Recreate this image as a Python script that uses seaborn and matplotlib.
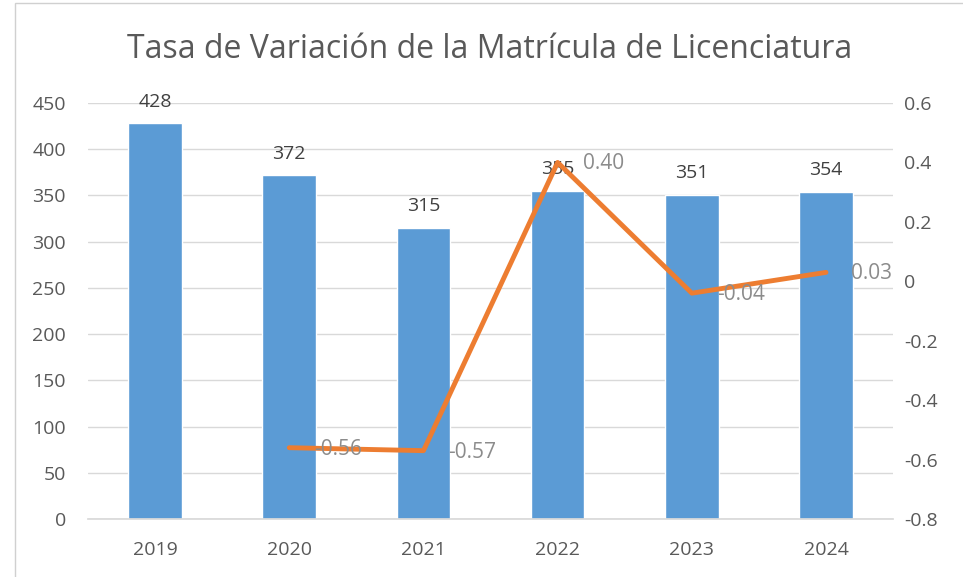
import matplotlib
matplotlib.use('Agg')
import matplotlib.pyplot as plt
import seaborn as sns
import pandas as pd
import numpy as np
from matplotlib.ticker import FuncFormatter, MultipleLocator
from matplotlib.patches import Rectangle

years = ['2019', '2020', '2021', '2022', '2023', '2024']
matricula = [428, 372, 315, 355, 351, 354]
tasa = [np.nan, -0.56, -0.57, 0.40, -0.04, 0.03]

bar_color = '#5B9BD5'
line_color = '#ED7D31'
text_gray = '#595959'

sns.set_theme(style='white')
plt.rcParams['font.family'] = ['Open Sans', 'DejaVu Sans']

df = pd.DataFrame({'year': years, 'matricula': matricula, 'tasa': tasa})

fig = plt.figure(figsize=(9.63, 5.77), dpi=100)
ax = fig.add_axes([0.0914, 0.1005, 0.836, 0.721])

sns.barplot(data=df, x='year', y='matricula', order=years, color=bar_color,
            saturation=1, width=0.4, ax=ax)
ax.set_ylim(0, 450)
ax.yaxis.set_major_locator(MultipleLocator(50))
ax.grid(axis='y', color='#d9d9d9', linewidth=1)
ax.set_axisbelow(True)
for s in ['left', 'right', 'top']:
    ax.spines[s].set_visible(False)
ax.spines['bottom'].set_color('#d9d9d9')
ax.set_xlabel('')
ax.set_ylabel('')
ax.tick_params(axis='y', labelsize=14, labelcolor=text_gray, length=0, pad=16)
ax.tick_params(axis='x', labelsize=14, labelcolor=text_gray, length=0, pad=16)

for i, v in enumerate(matricula):
    ax.annotate(str(v), (i, v), xytext=(0, 9), textcoords='offset points',
                ha='center', va='bottom', fontsize=14, color='#404040')

ax2 = ax.twinx()
sns.pointplot(data=df, x='year', y='tasa', order=years, color=line_color,
              markers='', linewidth=3.5, errorbar=None, ax=ax2)
ax2.set_ylim(-0.8, 0.6)
ax2.yaxis.set_major_locator(MultipleLocator(0.2))
ax2.yaxis.set_major_formatter(FuncFormatter(lambda v, p: '0' if abs(v) < 1e-9 else f'{v:.1f}'))
for s in ['left', 'right', 'top', 'bottom']:
    ax2.spines[s].set_visible(False)
ax2.grid(False)
ax2.set_ylabel('')
ax2.set_xlabel('')
ax2.tick_params(axis='y', labelsize=14, labelcolor=text_gray, length=0, pad=8)
ax2.set_xlim(-0.5, len(years) - 0.5)

for i, v in enumerate(tasa):
    if np.isnan(v):
        continue
    ax2.annotate(f'{v:.2f}', (i, v), xytext=(18, -1), textcoords='offset points',
                 ha='left', va='center', fontsize=15, color='#8c8c8c')

fig.suptitle('Tasa de Variación de la Matrícula de Licenciatura', x=0.508, y=0.915,
             va='center', fontsize=23, color=text_gray)

fig.patches.append(Rectangle((0.016, -0.01), 0.99, 1.004, transform=fig.transFigure,
                             fill=False, edgecolor='#d0d0d0', linewidth=1))

fig.savefig('out.png', dpi=100)
